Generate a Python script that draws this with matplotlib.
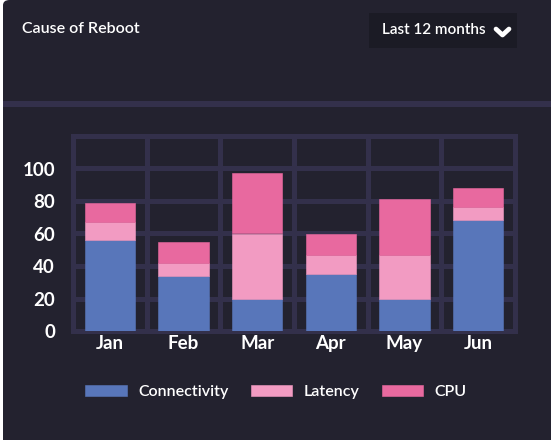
import matplotlib.pyplot as plt
from matplotlib.patches import FancyBboxPatch, Rectangle
from matplotlib.lines import Line2D
import numpy as np

months = ['Jan', 'Feb', 'Mar', 'Apr', 'May', 'Jun']
connectivity = [56, 34, 20, 35, 20, 68]
latency = [11, 8, 40, 12, 27, 8]
cpu = [12, 13, 37, 13, 34, 12]
series_names = ['Connectivity', 'Latency', 'CPU']
yticks = [0, 20, 40, 60, 80, 100]

bg = '#23222f'
grid_c = '#33304b'
colors = ['#5876ba', '#f29bc2', '#e8699f']

W, H = 551, 440
fig = plt.figure(figsize=(W / 100, H / 100), dpi=100)
fig.patch.set_facecolor('white')

def fx(px):
    return px / W

def fy(py):
    return 1 - py / H

# card background
card = FancyBboxPatch((fx(3), fy(460)), fx(560), (465 - 5) / H,
                      boxstyle='round,pad=0,rounding_size=0.012',
                      transform=fig.transFigure, facecolor=bg, edgecolor='none', zorder=-3)
fig.patches.append(card)

# header band
fig.patches.append(Rectangle((fx(3), fy(107)), fx(548), 6 / H, transform=fig.transFigure,
                             facecolor=grid_c, edgecolor='none', zorder=-2))
# dropdown box
fig.patches.append(Rectangle((fx(369), fy(48)), fx(148), 35 / H, transform=fig.transFigure,
                             facecolor='#1b1b25', edgecolor='none', zorder=-2))

fig.text(fx(22), fy(29), 'Cause of Reboot', color='white', fontsize=11.5,
         family='Lato', weight='semibold', va='center', ha='left')
fig.text(fx(382), fy(30), 'Last 12 months', color='white', fontsize=11,
         family='Lato', weight='semibold', va='center', ha='left')
fig.lines.append(Line2D([fx(496), fx(502.5), fx(509)], [fy(29), fy(35), fy(29)],
                        transform=fig.transFigure, color='white', lw=3.4,
                        solid_capstyle='round', solid_joinstyle='round'))

ax = fig.add_axes([fx(73), fy(331), fx(442), (331 - 136) / H])
ax.set_zorder(2)
ax.set_facecolor(bg)

x = np.arange(len(months))
bottom = np.zeros(len(months))
for name, vals, c in zip(series_names, [connectivity, latency, cpu], colors):
    ax.bar(x, vals, width=0.68, bottom=bottom, color=c, edgecolor=c, linewidth=0.4,
           label=name, zorder=3)
    bottom += np.array(vals)

ax.set_xlim(-0.5, len(months) - 0.5)
ax.set_ylim(0, 120)
ax.set_xticks(x)
ax.set_xticklabels(months)
ax.set_xticks(np.arange(-0.5, len(months), 1), minor=True)
ax.set_yticks(yticks)
ax.xaxis.grid(True, which='minor', color=grid_c, lw=3.6, zorder=0)
ax.yaxis.grid(True, which='major', color=grid_c, lw=3.6, zorder=0)
ax.tick_params(which='both', length=0)
ax.tick_params(axis='y', pad=13, labelsize=13.5, labelcolor='white')
ax.tick_params(axis='x', pad=3, labelsize=13.5, labelcolor='white')
for lab in ax.get_xticklabels() + ax.get_yticklabels():
    lab.set_fontweight('bold')
    lab.set_family('Lato')
for s in ax.spines.values():
    s.set_color(grid_c)
    s.set_linewidth(3.6)
    s.set_zorder(1)

leg = fig.legend(loc='center', bbox_to_anchor=(fx(276), fy(392)), ncol=3, frameon=False,
                 handlelength=2.6, handleheight=0.65, handletextpad=0.7, columnspacing=1.4,
                 prop={'family': 'Lato', 'size': 11.5, 'weight': 'semibold'})
for t in leg.get_texts():
    t.set_color('white')

fig.savefig('out.png', dpi=100, facecolor=fig.get_facecolor())
